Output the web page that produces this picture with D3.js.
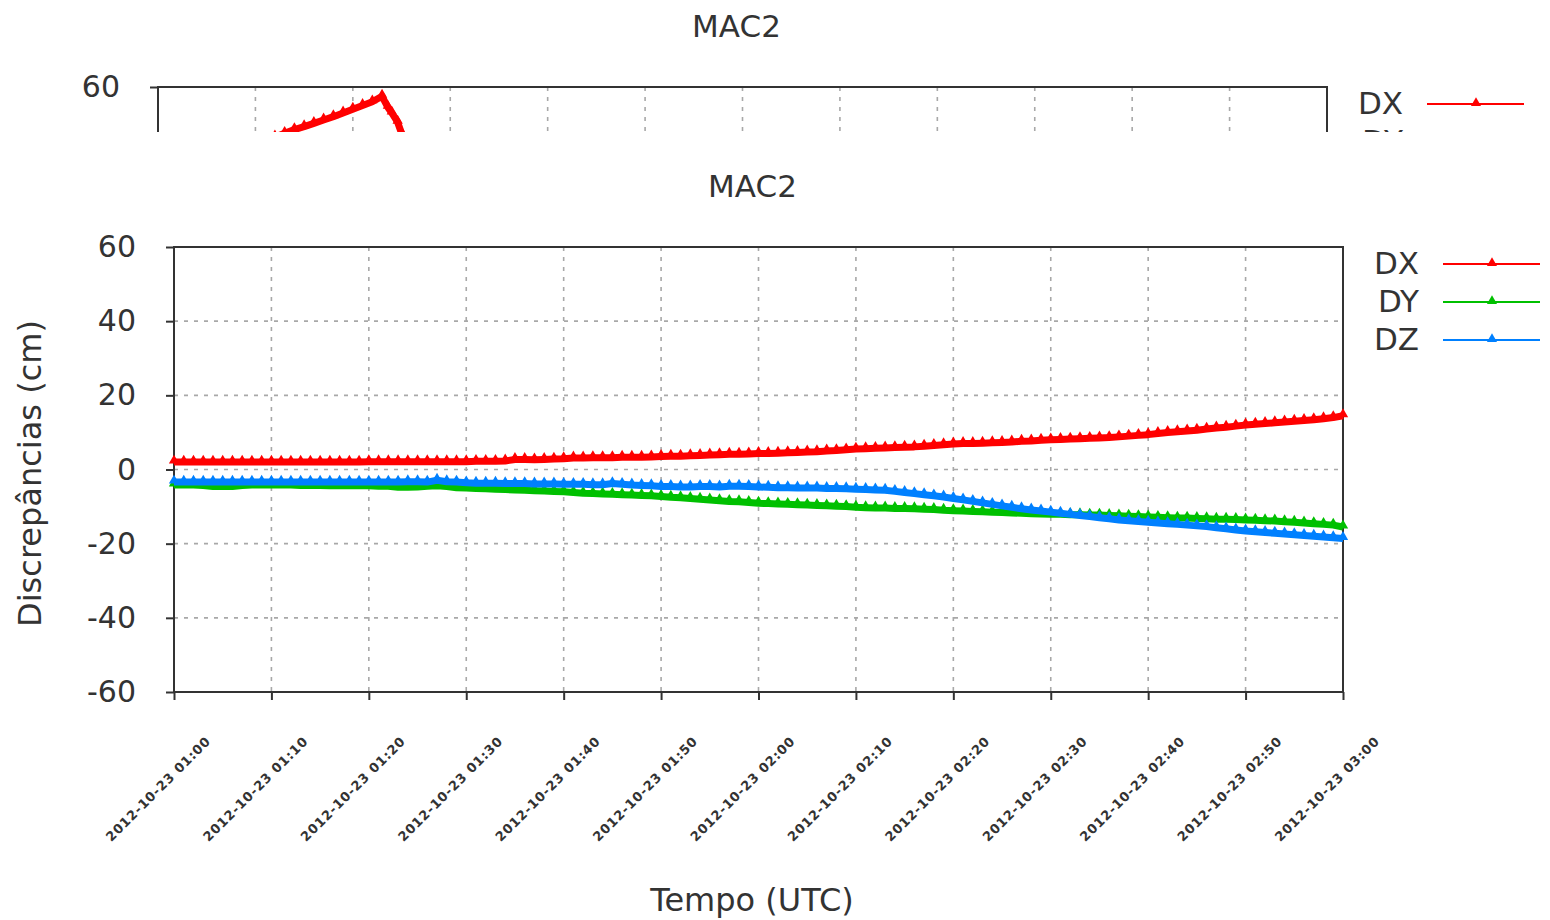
<!DOCTYPE html>
<html>
<head>
<meta charset="utf-8">
<script src="https://cdn.jsdelivr.net/npm/d3@7"></script>
<style>
  body { margin: 0; background: #fff; }
  svg { display: block; }
  text { font-family: "DejaVu Sans", sans-serif; fill: #333; }
</style>
</head>
<body>
<svg id="chart" width="1550" height="920"></svg>
<script>
// Station and series
const stationName = "MAC2";
const seriesNames = ["DX", "DY", "DZ"];
const seriesColors = ["#ff0000", "#00c000", "#0080ff"];

// Epochs: minutes after 2012-10-23 01:00 UTC
const epochMinutes = d3.range(0, 121);

// Discrepancies (cm), one value per minute
const dxValues = [
  2.0, 2.0, 2.0, 2.0, 2.0, 2.0, 2.0, 2.0, 2.0, 2.0,
  2.0, 2.0, 2.0, 2.0, 2.0, 2.0, 2.0, 2.0, 2.0, 2.0,
  2.1, 2.1, 2.1, 2.1, 2.1, 2.1, 2.1, 2.1, 2.1, 2.1,
  2.1, 2.2, 2.2, 2.2, 2.3, 2.7, 2.7, 2.6, 2.7, 2.8,
  2.9, 3.1, 3.1, 3.2, 3.2, 3.2, 3.3, 3.3, 3.3, 3.4,
  3.5, 3.6, 3.6, 3.7, 3.8, 3.9, 4.0, 4.1, 4.1, 4.2,
  4.3, 4.3, 4.4, 4.5, 4.6, 4.7, 4.8, 5.0, 5.1, 5.3,
  5.5, 5.6, 5.7, 5.8, 5.9, 6.0, 6.1, 6.3, 6.5, 6.7,
  6.9, 7.0, 7.0, 7.1, 7.2, 7.3, 7.4, 7.6, 7.7, 7.9,
  8.0, 8.1, 8.2, 8.3, 8.4, 8.5, 8.6, 8.8, 9.0, 9.2,
  9.4, 9.7, 10.0, 10.2, 10.4, 10.6, 10.9, 11.2, 11.4, 11.7,
  12.0, 12.2, 12.4, 12.6, 12.8, 13.0, 13.2, 13.4, 13.7, 14.0, 14.5
];
const dyValues = [
  -4.2, -4.2, -4.2, -4.3, -4.6, -4.6, -4.6, -4.3, -4.2, -4.2,
  -4.2, -4.2, -4.2, -4.3, -4.3, -4.3, -4.4, -4.4, -4.4, -4.4,
  -4.4, -4.5, -4.5, -4.8, -4.8, -4.7, -4.5, -4.4, -4.6, -4.9,
  -5.0, -5.1, -5.2, -5.3, -5.4, -5.5, -5.6, -5.7, -5.8, -5.9,
  -6.0, -6.2, -6.4, -6.5, -6.6, -6.7, -6.8, -6.9, -7.0, -7.1,
  -7.3, -7.5, -7.6, -7.8, -8.0, -8.2, -8.4, -8.6, -8.7, -8.9,
  -9.1, -9.2, -9.3, -9.4, -9.5, -9.6, -9.7, -9.8, -9.9, -10.0,
  -10.2, -10.3, -10.4, -10.4, -10.5, -10.5, -10.6, -10.7, -10.8, -11.0,
  -11.1, -11.2, -11.3, -11.4, -11.5, -11.6, -11.7, -11.8, -11.9, -12.0,
  -12.1, -12.1, -12.2, -12.2, -12.3, -12.3, -12.4, -12.5, -12.6, -12.7,
  -12.8, -12.9, -13.0, -13.1, -13.1, -13.2, -13.3, -13.4, -13.4, -13.5,
  -13.6, -13.7, -13.8, -13.9, -14.1, -14.2, -14.4, -14.6, -14.8, -15.0, -15.5
];
const dzValues = [
  -3.4, -3.4, -3.4, -3.4, -3.4, -3.4, -3.4, -3.4, -3.4, -3.4,
  -3.4, -3.4, -3.4, -3.4, -3.4, -3.4, -3.4, -3.4, -3.4, -3.4,
  -3.4, -3.4, -3.4, -3.4, -3.3, -3.3, -3.4, -2.9, -3.3, -3.4,
  -3.6, -3.7, -3.7, -3.7, -3.8, -3.8, -3.8, -3.9, -3.9, -3.9,
  -4.0, -4.0, -4.0, -4.1, -4.1, -3.8, -4.0, -4.2, -4.3, -4.4,
  -4.6, -4.6, -4.7, -4.7, -4.6, -4.6, -4.7, -4.5, -4.5, -4.6,
  -4.7, -4.8, -4.9, -4.9, -5.0, -5.0, -5.0, -5.1, -5.1, -5.2,
  -5.3, -5.4, -5.5, -5.6, -5.9, -6.2, -6.5, -6.8, -7.1, -7.4,
  -7.8, -8.2, -8.6, -9.0, -9.4, -9.8, -10.2, -10.6, -10.9, -11.2,
  -11.5, -11.8, -12.1, -12.4, -12.7, -13.0, -13.3, -13.6, -13.8, -14.0,
  -14.2, -14.4, -14.6, -14.8, -15.0, -15.2, -15.4, -15.7, -16.0, -16.3,
  -16.6, -16.8, -17.0, -17.2, -17.4, -17.6, -17.8, -18.0, -18.2, -18.4, -18.6
];

// Preceding panel (only its upper strip is shown)
const prevMinutes = [10, 11, 12, 13, 14, 15, 16, 17, 18, 19, 20, 21, 22, 23, 23.6, 24, 24.6, 25, 26];
const prevDxValues = [44.5, 45.5, 46.5, 47.5, 48.5, 49.3, 50.2, 51.1, 52.0, 53.0, 54.0, 55.0, 56.0, 57.5, 54.5, 53.0, 50.5, 47.5, 43.5];

// Axis ticks
const yTicks = [-60, -40, -20, 0, 20, 40, 60];
const xTickMinutes = [0, 10, 20, 30, 40, 50, 60, 70, 80, 90, 100, 110, 120];
const xTickLabels = [
  "2012-10-23 01:00", "2012-10-23 01:10", "2012-10-23 01:20", "2012-10-23 01:30",
  "2012-10-23 01:40", "2012-10-23 01:50", "2012-10-23 02:00", "2012-10-23 02:10",
  "2012-10-23 02:20", "2012-10-23 02:30", "2012-10-23 02:40", "2012-10-23 02:50",
  "2012-10-23 03:00"
];

const svg = d3.select("#chart");
const box = { left: 174, right: 1343, top: 247, bottom: 692 };

function drawPanel(g, series) {
  const x = d3.scaleLinear().domain([0, 120]).range([box.left, box.right]);
  const y = d3.scaleLinear().domain([-60, 60]).range([box.bottom, box.top]);

  // title
  g.append("text")
    .attr("x", (box.left + box.right) / 2 - 6)
    .attr("y", 197)
    .attr("text-anchor", "middle")
    .style("font-size", "31px")
    .text(stationName);

  // grid
  const grid = g.append("g")
    .attr("stroke", "#a8a8a8")
    .attr("stroke-width", 1.6)
    .attr("stroke-dasharray", "4,6");
  grid.selectAll("line.h")
    .data(yTicks.filter(v => v > -60 && v < 60))
    .join("line")
    .attr("x1", box.left).attr("x2", box.right)
    .attr("y1", d => y(d)).attr("y2", d => y(d));
  grid.selectAll("line.v")
    .data(xTickMinutes.filter(v => v > 0 && v < 120))
    .join("line")
    .attr("class", "v")
    .attr("y1", box.top).attr("y2", box.bottom)
    .attr("x1", d => x(d)).attr("x2", d => x(d));

  // axes
  const yAxis = g.append("g")
    .attr("transform", `translate(${box.left},0)`)
    .call(d3.axisLeft(y).tickValues(yTicks).tickFormat(d => String(d))
      .tickSize(8).tickPadding(30));
  yAxis.select(".domain").remove();
  yAxis.selectAll("line").attr("stroke", "#333").attr("stroke-width", 2);
  yAxis.selectAll("text")
    .style("font-size", "30px")
    .attr("fill", "#333");

  const xAxis = g.append("g")
    .attr("transform", `translate(0,${box.bottom})`)
    .call(d3.axisBottom(x).tickValues(xTickMinutes)
      .tickFormat((d, i) => xTickLabels[i]).tickSize(8));
  xAxis.select(".domain").remove();
  xAxis.selectAll("line").attr("stroke", "#333").attr("stroke-width", 2);
  xAxis.selectAll("text")
    .attr("y", 0).attr("dy", 0)
    .attr("text-anchor", "end")
    .attr("transform", "translate(37,50) rotate(-45)")
    .attr("fill", "#333")
    .style("font-size", "13px")
    .style("font-weight", "bold")
    .style("letter-spacing", "0.8px");

  // frame
  g.append("rect")
    .attr("x", box.left).attr("y", box.top)
    .attr("width", box.right - box.left).attr("height", box.bottom - box.top)
    .attr("fill", "none").attr("stroke", "#333").attr("stroke-width", 2);

  // axis titles
  g.append("text")
    .attr("transform", `translate(41,${(box.top + box.bottom) / 2 + 4}) rotate(-90)`)
    .attr("text-anchor", "middle")
    .style("font-size", "32px")
    .text("Discrepâncias (cm)");
  g.append("text")
    .attr("x", 752).attr("y", 911)
    .attr("text-anchor", "middle")
    .style("font-size", "32px")
    .text("Tempo (UTC)");

  // series
  const line = d3.line().x(d => x(d[0])).y(d => y(d[1]));
  const marker = d3.symbol(d3.symbolTriangle, 46);
  series.forEach(s => {
    const pts = s.minutes.map((m, i) => [m, s.values[i]]);
    const sg = g.append("g");
    sg.append("path")
      .attr("d", line(pts))
      .attr("fill", "none")
      .attr("stroke", s.color)
      .attr("stroke-width", 7)
      .attr("stroke-linejoin", "round");
    sg.selectAll("path.m")
      .data(pts)
      .join("path")
      .attr("class", "m")
      .attr("d", marker)
      .attr("transform", d => `translate(${x(d[0])},${y(d[1]) - 1.5})`)
      .attr("fill", s.color);
  });

  // legend
  const leg = g.append("g");
  seriesNames.forEach((name, i) => {
    const cy = 264 + i * 38;
    leg.append("text")
      .attr("x", 1419).attr("y", cy + 10)
      .attr("text-anchor", "end")
      .style("font-size", "31px")
      .text(name);
    leg.append("line")
      .attr("x1", 1443).attr("x2", 1540)
      .attr("y1", cy).attr("y2", cy)
      .attr("stroke", seriesColors[i]).attr("stroke-width", 2);
    leg.append("path")
      .attr("d", d3.symbol(d3.symbolTriangle, 44)())
      .attr("transform", `translate(1492,${cy - 1})`)
      .attr("fill", seriesColors[i]);
  });
}

// upper strip: preceding panel, cropped at y = 132
const stripBottom = 132;
svg.append("defs").append("clipPath").attr("id", "stripClip")
  .append("rect").attr("x", 0).attr("y", 0).attr("width", 1550).attr("height", stripBottom);
const strip = svg.append("g").attr("clip-path", "url(#stripClip)")
  .append("g").attr("transform", "translate(-16,-160)");
drawPanel(strip, [
  { minutes: prevMinutes, values: prevDxValues, color: seriesColors[0] }
]);

// main panel
drawPanel(svg.append("g"), [
  { minutes: epochMinutes, values: dxValues, color: seriesColors[0] },
  { minutes: epochMinutes, values: dyValues, color: seriesColors[1] },
  { minutes: epochMinutes, values: dzValues, color: seriesColors[2] }
]);
</script>
</body>
</html>
